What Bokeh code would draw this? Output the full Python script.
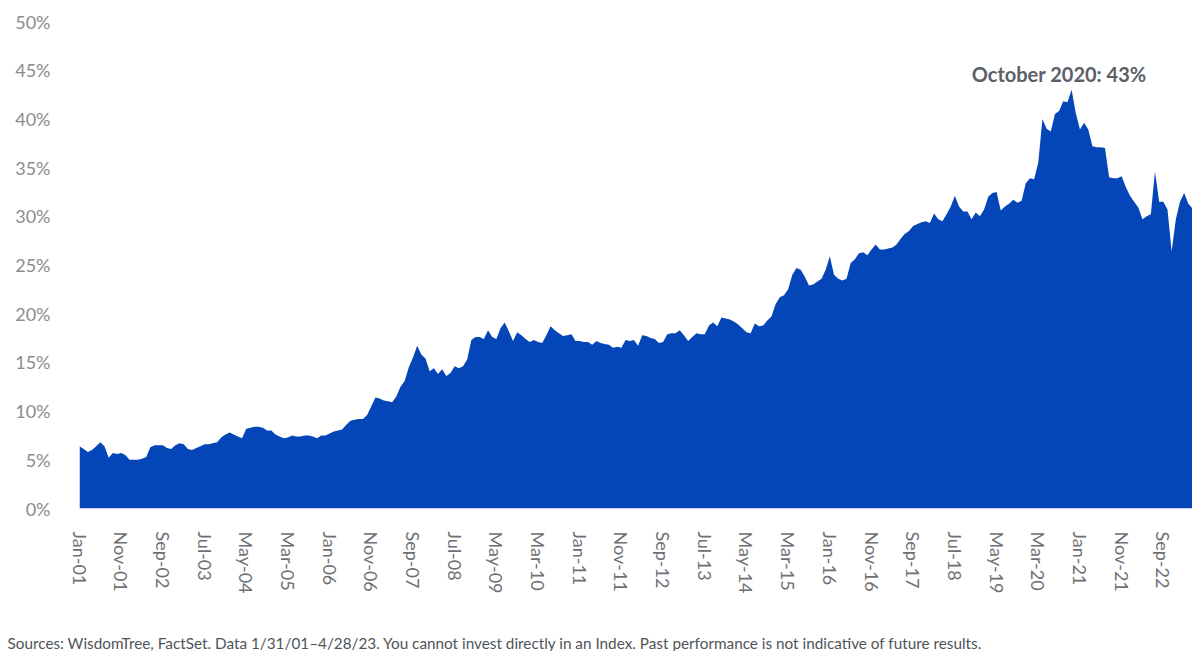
import pandas as pd
from bokeh.plotting import figure
from bokeh.layouts import column
from bokeh.models import FixedTicker, Range1d, Label, Title, ColumnDataSource
from bokeh.embed import file_html
from bokeh.resources import INLINE

# Monthly values (%), Jan 2001 - Apr 2023
v2001 = [6.4, 6.1, 5.8, 6.0, 6.4, 6.8, 6.4, 5.2, 5.7, 5.6, 5.7, 5.5]
v2002 = [5.0, 5.0, 5.0, 5.1, 5.3, 6.3, 6.5, 6.5, 6.5, 6.2, 6.1, 6.5]
v2003 = [6.7, 6.6, 6.1, 6.0, 6.2, 6.4, 6.6, 6.6, 6.7, 6.8, 7.3, 7.6]
v2004 = [7.8, 7.6, 7.4, 7.2, 8.2, 8.3, 8.4, 8.4, 8.3, 8.0, 8.0, 7.6]
v2005 = [7.4, 7.2, 7.3, 7.5, 7.4, 7.4, 7.5, 7.5, 7.4, 7.2, 7.5, 7.5]
v2006 = [7.7, 7.9, 8.0, 8.1, 8.6, 9.0, 9.1, 9.2, 9.2, 9.6, 10.5, 11.4]
v2007 = [11.3, 11.1, 11.0, 10.9, 11.5, 12.5, 13.1, 14.5, 15.5, 16.7, 15.8, 15.4]
v2008 = [14.1, 14.4, 13.8, 14.3, 13.6, 13.9, 14.6, 14.4, 14.6, 15.3, 17.3, 17.6]
v2009 = [17.6, 17.4, 18.3, 17.6, 17.4, 18.5, 19.1, 18.2, 17.2, 18.1, 17.8, 17.4]
v2010 = [17.1, 17.3, 17.1, 17.0, 17.8, 18.7, 18.3, 18.0, 17.7, 17.8, 17.9, 17.2]
v2011 = [17.2, 17.1, 17.1, 16.8, 17.2, 17.0, 16.9, 16.8, 16.5, 16.6, 16.5, 17.3]
v2012 = [17.2, 17.3, 16.7, 17.8, 17.7, 17.5, 17.4, 17.0, 17.1, 17.9, 18.0, 18.0]
v2013 = [18.3, 17.8, 17.2, 17.6, 18.0, 17.9, 17.9, 18.8, 19.1, 18.7, 19.6, 19.5]
v2014 = [19.4, 19.2, 18.9, 18.5, 18.1, 18.0, 19.0, 18.7, 18.8, 19.3, 19.7, 21.0]
v2015 = [21.7, 21.9, 22.5, 24.0, 24.7, 24.5, 23.8, 22.9, 23.0, 23.3, 23.6, 24.5]
v2016 = [25.9, 24.0, 23.6, 23.4, 23.6, 25.2, 25.6, 26.2, 26.3, 26.0, 26.6, 27.1]
v2017 = [26.6, 26.6, 26.7, 26.8, 27.1, 27.7, 28.2, 28.5, 29.0, 29.2, 29.4, 29.5]
v2018 = [29.3, 30.3, 29.7, 29.5, 30.2, 31.0, 32.1, 31.0, 30.5, 30.5, 29.7, 30.4]
v2019 = [30.0, 30.7, 32.0, 32.4, 32.5, 30.6, 31.0, 31.3, 31.7, 31.4, 31.6, 33.4]
v2020 = [33.9, 33.8, 35.5, 40.0, 39.0, 38.7, 40.5, 40.8, 41.8, 41.7, 43.0, 40.6]
v2021 = [38.9, 39.6, 38.9, 37.2, 37.1, 37.1, 37.0, 34.0, 33.9, 33.9, 34.1, 33.0]
v2022 = [32.1, 31.5, 30.9, 29.7, 30.0, 30.2, 34.6, 31.5, 31.5, 30.7, 26.4, 29.7]
v2023 = [31.5, 32.4, 31.3, 30.8]

values = (v2001 + v2002 + v2003 + v2004 + v2005 + v2006 + v2007 + v2008 + v2009
          + v2010 + v2011 + v2012 + v2013 + v2014 + v2015 + v2016 + v2017 + v2018
          + v2019 + v2020 + v2021 + v2022 + v2023)

months = pd.date_range("2001-01-01", periods=len(values), freq="MS")
month_labels = [d.strftime("%b-%y") for d in months]
tick_every = 10

y_ticks = [0, 5, 10, 15, 20, 25, 30, 35, 40, 45, 50]

annotation_text = "October 2020:  43%"
source_text = ("Sources: WisdomTree, FactSet. Data 1/31/01\u20134/28/23. You cannot invest directly "
               "in an Index. Past performance is not indicative of future results.")

x = list(range(len(values)))
src = ColumnDataSource(dict(x=x, y=values, y0=[0] * len(values)))

p = figure(width=1192, height=600, output_backend="svg", toolbar_location=None,
           x_range=Range1d(0, len(values) - 1), y_range=Range1d(0, 50),
           min_border_left=79, min_border_right=0, min_border_top=21,
           min_border_bottom=92)
p.outline_line_color = None
p.background_fill_color = "white"
p.border_fill_color = "white"

p.varea(x="x", y1="y0", y2="y", source=src, fill_color="#0446b8", fill_alpha=1.0)

p.xgrid.visible = False
p.ygrid.visible = False

tick_pos = list(range(0, len(values), tick_every))
p.xaxis.ticker = FixedTicker(ticks=tick_pos)
p.xaxis.major_label_overrides = {i: month_labels[i] for i in tick_pos}
p.xaxis.major_label_orientation = "vertical"
p.xaxis.axis_line_color = None
p.xaxis.major_tick_line_color = None
p.xaxis.minor_tick_line_color = None
p.xaxis.major_label_standoff = 17
p.xaxis.major_label_text_font = "Lato"
p.xaxis.major_label_text_font_size = "18px"
p.xaxis.major_label_text_color = "#6e7075"

p.yaxis.ticker = FixedTicker(ticks=y_ticks)
p.yaxis.major_label_overrides = {t: f"{t}%" for t in y_ticks}
p.yaxis.axis_line_color = None
p.yaxis.major_tick_line_color = None
p.yaxis.minor_tick_line_color = None
p.yaxis.major_label_standoff = 23
p.yaxis.major_label_text_font = "Lato"
p.yaxis.major_label_text_font_size = "18px"
p.yaxis.major_label_text_color = "#8a8c90"

peak_i = values.index(max(values))
p.add_layout(Label(x=peak_i - 2.4, y=44.6, text=annotation_text, text_align="center",
                   text_baseline="middle", text_font="Lato", text_font_style="bold",
                   text_font_size="20px", text_color="#5b6068"))

# footer strip holding the source note
note = figure(width=1192, height=51, output_backend="svg", toolbar_location=None,
              x_range=Range1d(0, 1), y_range=Range1d(0, 1),
              min_border_left=79, min_border_right=0, min_border_top=0, min_border_bottom=0)
note.axis.visible = False
note.grid.visible = False
note.outline_line_color = None
note.add_layout(Title(text=source_text, align="left", text_font="Lato",
                      text_font_size="15.3px", text_font_style="normal",
                      text_color="#505459", standoff=0, offset=-72), "below")

layout = column(p, note, spacing=0)
open("out.html", "w").write(file_html(layout, INLINE))
